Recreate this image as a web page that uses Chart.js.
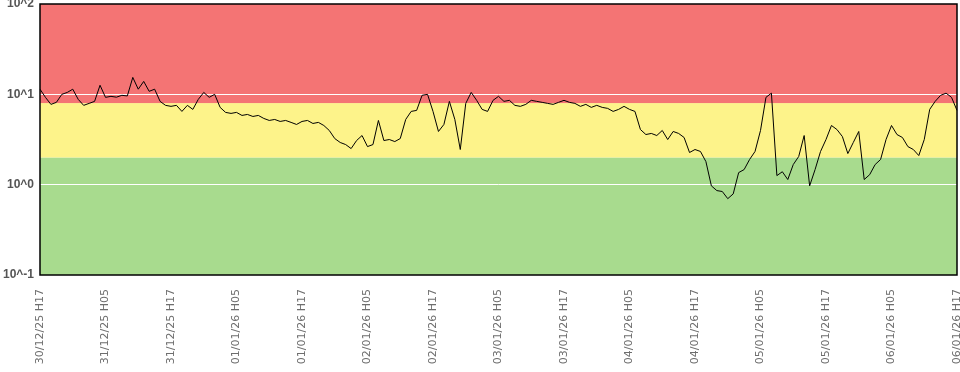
<!DOCTYPE html>
<html>
<head>
<meta charset="utf-8">
<script src="https://cdn.jsdelivr.net/npm/chart.js@4.4.1/dist/chart.umd.min.js"></script>
<style>
  html, body { margin: 0; padding: 0; background: #fff; }
  #chart { display: block; }
</style>
</head>
<body>
<canvas id="chart" width="960" height="372"></canvas>
<script>
// Etiquetas del eje X (una cada 12 horas)
const tickLabels = [
  '30/12/25 H17', '31/12/25 H05', '31/12/25 H17', '01/01/26 H05', '01/01/26 H17',
  '02/01/26 H05', '02/01/26 H17', '03/01/26 H05', '03/01/26 H17', '04/01/26 H05',
  '04/01/26 H17', '05/01/26 H05', '05/01/26 H17', '06/01/26 H05', '06/01/26 H17'
];

// Valores horarios (169 puntos, 30/12 H17 -> 06/01 H17)
const valores = [
  11.4, 9.26, 7.74, 8.15, 10, 10.5, 11.4, 8.8, 7.55, 7.94,
  8.36, 12.6, 9.26, 9.5, 9.3, 9.75, 9.6, 15.4, 11.4, 13.9,
  10.8, 11.4, 8.36, 7.55, 7.36, 7.55, 6.47, 7.55, 6.81, 8.8,
  10.5, 9.26, 10, 7.17, 6.31, 6.15, 6.31, 5.84, 5.99, 5.69,
  5.84, 5.41, 5.14, 5.27, 5.01, 5.14, 4.89, 4.64, 5.01, 5.14,
  4.76, 4.89, 4.52, 3.98, 3.24, 2.93, 2.78, 2.51, 3.08, 3.5,
  2.64, 2.78, 5.14, 3.08, 3.16, 3.0, 3.24, 5.27, 6.47, 6.64,
  9.75, 10, 6.47, 3.88, 4.64, 8.36, 5.27, 2.45, 7.94, 10.5,
  8.58, 6.81, 6.47, 8.58, 9.5, 8.36, 8.58, 7.55, 7.36, 7.74,
  8.58, 8.36, 8.15, 7.94, 7.74, 8.15, 8.58, 8.15, 7.94, 7.36,
  7.74, 7.17, 7.55, 7.17, 6.99, 6.47, 6.81, 7.36, 6.81, 6.47,
  4.08, 3.59, 3.69, 3.5, 3.98, 3.16, 3.88, 3.69, 3.33, 2.27,
  2.45, 2.33, 1.8, 0.97, 0.86, 0.84, 0.7, 0.79, 1.36, 1.47,
  1.9, 2.33, 3.98, 9.26, 10.3, 1.26, 1.39, 1.14, 1.67, 2.05,
  3.5, 0.97, 1.47, 2.33, 3.16, 4.52, 4.08, 3.41, 2.21, 2.93,
  3.88, 1.14, 1.29, 1.67, 1.9, 3.16, 4.52, 3.59, 3.33, 2.64,
  2.45, 2.1, 3.16, 6.81, 8.36, 9.75, 10.3, 9.26, 6.64
];

// Escala logarítmica y bandas de color
const yTicks = [0.1, 1, 10, 100];
const yTickLabels = ['10^-1', '10^0', '10^1', '10^2'];
const bandLimits = [0.1, 2, 8, 100];
const bandColors = ['#a8db8e', '#fdf38a', '#f47474'];

const HORAS_POR_TICK = 12;
const labels = valores.map((v, i) => i % HORAS_POR_TICK === 0 ? tickLabels[i / HORAS_POR_TICK] : '');

// Bandas de fondo (antes de la cuadrícula) y marco negro
const bandasPlugin = {
  id: 'bandas',
  beforeDraw(chart) {
    const { ctx, chartArea, scales } = chart;
    const y = scales.y;
    ctx.save();
    for (let i = 0; i < bandColors.length; i++) {
      const top = y.getPixelForValue(bandLimits[i + 1]);
      const bottom = y.getPixelForValue(bandLimits[i]);
      ctx.fillStyle = bandColors[i];
      ctx.fillRect(chartArea.left, top, chartArea.right - chartArea.left, bottom - top);
    }
    ctx.restore();
  },
  afterDatasetsDraw(chart) {
    const { ctx, chartArea } = chart;
    ctx.save();
    ctx.strokeStyle = '#000';
    ctx.lineWidth = 1.5;
    ctx.strokeRect(chartArea.left, chartArea.top, chartArea.right - chartArea.left, chartArea.bottom - chartArea.top);
    ctx.restore();
  }
};

new Chart(document.getElementById('chart').getContext('2d'), {
  type: 'line',
  data: {
    labels: labels,
    datasets: [{
      data: valores,
      borderColor: '#000',
      borderWidth: 1,
      pointRadius: 0,
      tension: 0,
      fill: false
    }]
  },
  options: {
    responsive: false,
    animation: false,
    layout: { padding: { top: 4, right: 3, left: 0, bottom: 0 } },
    plugins: { legend: { display: false }, tooltip: { enabled: false } },
    scales: {
      x: {
        type: 'category',
        offset: false,
        grid: { display: false },
        border: { display: false },
        afterFit(scale) {
          scale.height = 97;
          scale.paddingLeft = 0;
          scale.paddingRight = 0;
        },
        ticks: {
          autoSkip: false,
          maxRotation: 90,
          minRotation: 90,
          padding: 6,
          color: '#6e6e6e',
          font: { family: 'DejaVu Sans', size: 11 },
          callback(value, index) { return labels[index]; }
        }
      },
      y: {
        type: 'logarithmic',
        min: yTicks[0],
        max: yTicks[yTicks.length - 1],
        afterBuildTicks(scale) { scale.ticks = yTicks.map(v => ({ value: v })); },
        afterFit(scale) {
          scale.width = 40;
          scale.paddingTop = 0;
          scale.paddingBottom = 0;
        },
        grid: {
          color: (c) => (c.tick && (c.tick.value === 1 || c.tick.value === 10)) ? '#ffffff' : 'rgba(0,0,0,0)',
          lineWidth: 1,
          drawTicks: false
        },
        border: { display: false },
        ticks: {
          padding: 6,
          color: '#555',
          font: { family: 'Liberation Sans', size: 12, weight: 'bold' },
          callback(value) {
            const i = yTicks.indexOf(value);
            return i >= 0 ? yTickLabels[i] : '';
          }
        }
      }
    }
  },
  plugins: [bandasPlugin]
});
</script>
</body>
</html>
